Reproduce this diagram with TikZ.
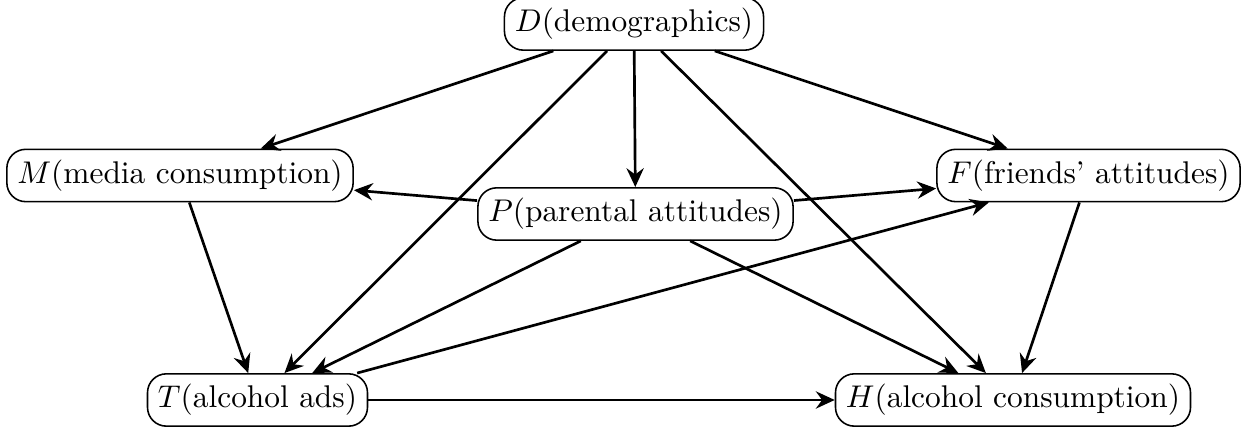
\documentclass[tikz,border=0pt]{standalone}
\usetikzlibrary{arrows.meta}
\begin{document}
\begin{tikzpicture}[x=0.3185pt,y=-0.3185pt,
  var/.style={draw,rounded corners=6pt,inner sep=3.33pt,line width=0.5pt},
  edge/.style={line width=0.85pt,-{Stealth[length=6pt,width=5.5pt,inset=2pt]}}]
\useasboundingbox (0,0) rectangle (1247,433);
\node[var] (D) at (634,24) {$D$(demographics)};
\node[var] (M) at (180,175.5) {$M$(media consumption)};
\node[var] (P) at (635.5,214) {$P$(parental attitudes)};
\node[var] (F) at (1088.5,175.5) {$F$(friends' attitudes)};
\node[var] (T) at (257.5,400) {$T$(alcohol ads)};
\node[var] (H) at (1013,400) {$H$(alcohol consumption)};
\draw[edge] (D) -- (M);
\draw[edge] (D) -- (P);
\draw[edge] (D) -- (T);
\draw[edge] (D) -- (F);
\draw[edge] (D) -- (H);
\draw[edge] (P) -- (M);
\draw[edge] (P) -- (F);
\draw[edge] (P) -- (T);
\draw[edge] (P) -- (H);
\draw[edge] (F) -- (H);
\draw[edge] (M) -- (T);
\draw[edge] (T) -- (F);
\draw[edge] (T) -- (H);
\end{tikzpicture}
\end{document}
